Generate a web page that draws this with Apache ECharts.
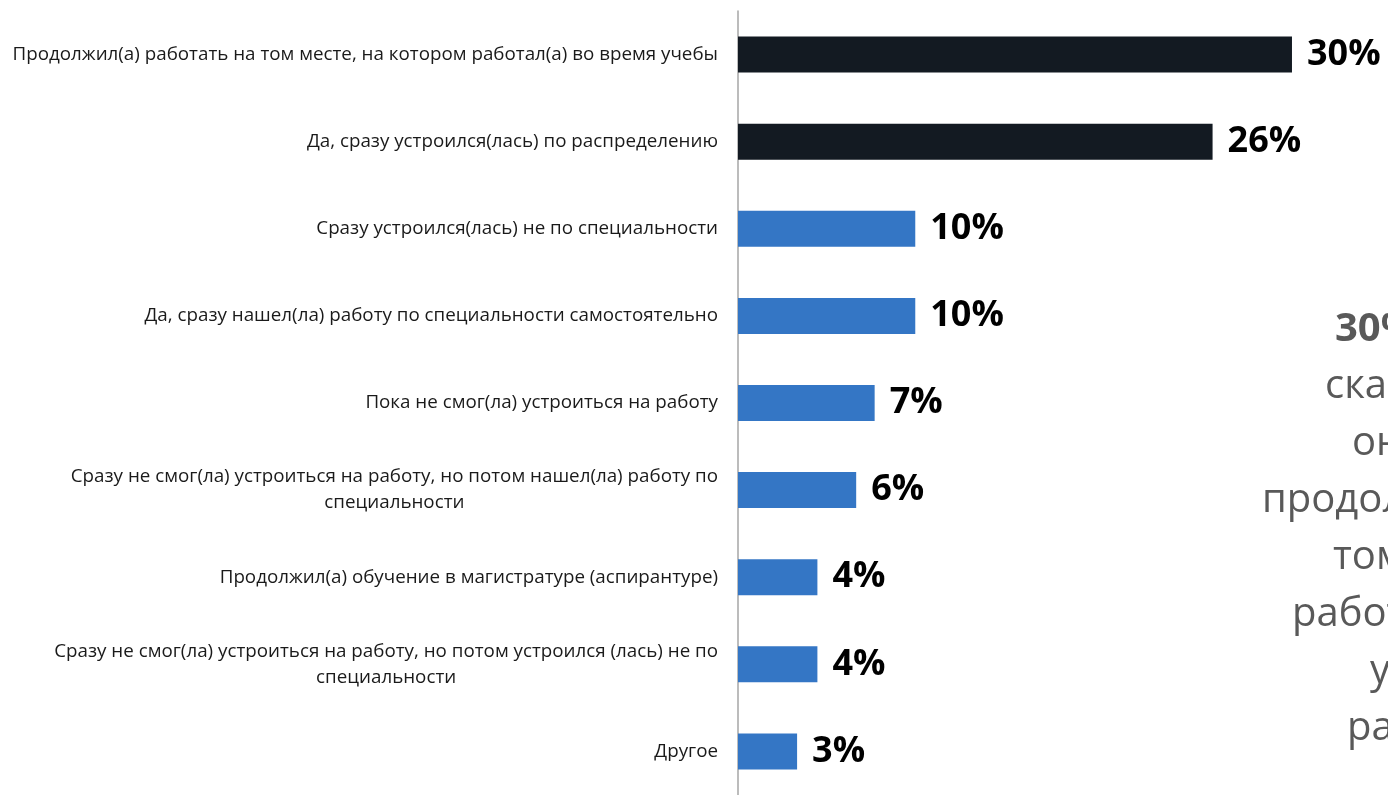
<!DOCTYPE html>
<html>
<head>
<meta charset="utf-8">
<script src="https://cdn.jsdelivr.net/npm/echarts@6/dist/echarts.min.js"></script>
<style>
  html, body { margin: 0; padding: 0; background: #fff; }
  #chart { width: 1388px; height: 795px; }
</style>
</head>
<body>
<div id="chart"></div>
<script>
// answers, top to bottom
var categories = [
    'Продолжил(а) работать на том месте, на котором работал(а) во время учебы',
    'Да, сразу устроился(лась) по распределению',
    'Сразу устроился(лась) не по специальности',
    'Да, сразу нашел(ла) работу по специальности самостоятельно',
    'Пока не смог(ла) устроиться на работу',
    'Сразу не смог(ла) устроиться на работу, но потом нашел(ла) работу по\nспециальности',
    'Продолжил(а) обучение в магистратуре (аспирантуре)',
    'Сразу не смог(ла) устроиться на работу, но потом устроился (лась) не по\nспециальности',
    'Другое'
];
var shares = [30.0, 25.7, 9.6, 9.6, 7.4, 6.4, 4.3, 4.3, 3.2];
// the first answers are drawn dark
var darkCount = 2;

// side note (cut off by the right edge in the original)
var noteLines = ['30%', 'сказали, что', 'они', 'продолжили работать', 'том месте, на', 'работали во время', 'учебы', 'работы'];

var noteX = [1335, 1325, 1352, 1262, 1333, 1292, 1370, 1347];

var chart = echarts.init(document.getElementById('chart'));

var note = noteLines.map(function (t, i) {
    return {
        type: 'text',
        x: noteX[i],
        y: 330 + i * 57,
        style: {
            text: t,
            fill: '#595959',
            font: (i === 0 ? 'bold ' : '') + '40px "Open Sans"',
            verticalAlign: 'middle'
        }
    };
});

var option = {
    animation: false,
    grid: { left: 738, right: 0, top: 11, bottom: -4 },
    xAxis: {
        type: 'value',
        min: 0,
        max: 35.2,
        show: false
    },
    yAxis: {
        type: 'category',
        inverse: true,
        data: categories,
        axisLine: { show: true, lineStyle: { color: '#a6a6a6', width: 1.5 } },
        axisTick: { show: false },
        axisLabel: {
            margin: 20,
            color: '#1a1a1a',
            fontFamily: 'Open Sans',
            fontSize: 18.8,
            lineHeight: 26,
            formatter: function (v) {
                return v.split('\n').map(function (l) { return '{c|' + l + '}'; }).join('\n');
            },
            rich: {
                c: { align: 'center', fontFamily: 'Open Sans', fontSize: 18.8, lineHeight: 26, color: '#1a1a1a' }
            }
        }
    },
    series: [{
        type: 'bar',
        data: shares,
        barWidth: 36,
        itemStyle: {
            color: function (p) { return p.dataIndex < darkCount ? '#131a22' : '#3476c5'; }
        },
        label: {
            show: true,
            position: 'right',
            distance: 15,
            color: '#000',
            fontFamily: 'Open Sans',
            fontWeight: 'bold',
            fontSize: 36,
            formatter: function (p) { return Math.round(p.value) + '%'; }
        }
    }],
    graphic: note
};

chart.setOption(option);
</script>
</body>
</html>
